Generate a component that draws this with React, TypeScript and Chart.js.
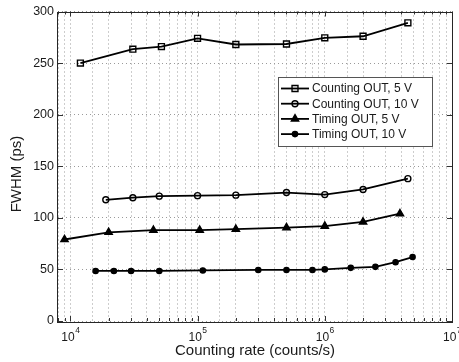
import React, { useEffect, useRef } from 'react';
import { Chart, registerables } from 'chart.js';

Chart.register(...registerables);

const FONT = '"Liberation Sans", Arial, Helvetica, sans-serif';
const TEXT = '#1a1a1a';

// ---- data ----
const seriesLabels = ['Counting OUT, 5 V', 'Counting OUT, 10 V', 'Timing OUT, 5 V', 'Timing OUT, 10 V'];

const cnt5X = [12000, 31000, 52000, 100000, 200000, 500000, 1000000, 2000000, 4500000];
const cnt5Y = [250, 263.5, 266, 274, 268, 268.5, 274.5, 276, 289];

const cnt10X = [19000, 31000, 50000, 100000, 200000, 500000, 1000000, 2000000, 4500000];
const cnt10Y = [117.5, 119.5, 121, 121.5, 122, 124.5, 122.5, 127.5, 138];

const tim5X = [9000, 20000, 45000, 104000, 200000, 500000, 1000000, 2000000, 3900000];
const tim5Y = [79, 86, 88, 88, 89, 90.5, 92, 96, 104];

const tim10X = [15800, 22000, 30000, 50000, 110000, 300000, 500000, 800000, 1000000, 1600000, 2500000, 3600000, 4900000];
const tim10Y = [48.5, 48.5, 48.5, 48.5, 49, 49.5, 49.5, 49.5, 50, 51.5, 52.5, 57, 62];

const xTickExponents = [4, 5, 6, 7];
const xMin = 8000;
const xMax = 10000000;
const yMin = 0;
const yMax = 300;
const yStep = 50;
const xTitle = 'Counting rate (counts/s)';
const yTitle = 'FWHM (ps)';

type Marker = { style: string; radius: number; fill: string };
const markers: Marker[] = [
  { style: 'rect', radius: 4.2, fill: 'rgba(0,0,0,0)' },
  { style: 'circle', radius: 3, fill: 'rgba(0,0,0,0)' },
  { style: 'triangle', radius: 4.2, fill: '#000' },
  { style: 'circle', radius: 2.6, fill: '#000' },
];

const toPoints = (xs: number[], ys: number[]) => xs.map((x, i) => ({ x, y: ys[i] }));

function drawMarker(ctx: CanvasRenderingContext2D, m: Marker, x: number, y: number) {
  ctx.save();
  ctx.lineWidth = 1.4;
  ctx.strokeStyle = '#000';
  ctx.fillStyle = m.fill;
  ctx.beginPath();
  if (m.style === 'rect') {
    const s = Math.SQRT1_2 * m.radius;
    ctx.rect(x - s, y - s, 2 * s, 2 * s);
  } else if (m.style === 'triangle') {
    const r = m.radius;
    for (let k = 0; k < 3; k++) {
      const a = -Math.PI / 2 + (k * 2 * Math.PI) / 3;
      const px = x + r * Math.cos(a);
      const py = y + r * Math.sin(a);
      if (k === 0) ctx.moveTo(px, py);
      else ctx.lineTo(px, py);
    }
    ctx.closePath();
  } else {
    ctx.arc(x, y, m.radius, 0, Math.PI * 2);
  }
  ctx.fill();
  ctx.stroke();
  ctx.restore();
}

const framePlugin = {
  id: 'matlabFrame',
  afterDraw(chart: any) {
    const { ctx, chartArea: a, scales } = chart;
    const xs = scales.x;
    const ys = scales.y;
    ctx.save();
    ctx.strokeStyle = '#333';
    ctx.lineWidth = 1;

    // x tick marks (major + minor), inside, bottom and top
    ctx.beginPath();
    for (let e = 3; e <= 7; e++) {
      for (let m = 1; m <= 9; m++) {
        const v = m * Math.pow(10, e);
        if (v < xMin || v > xMax) continue;
        const px = Math.round(xs.getPixelForValue(v)) + 0.5;
        const len = m === 1 ? 5 : 3;
        ctx.moveTo(px, a.bottom);
        ctx.lineTo(px, a.bottom - len);
        ctx.moveTo(px, a.top);
        ctx.lineTo(px, a.top + len);
      }
    }
    for (let v = yMin; v <= yMax; v += yStep) {
      const py = Math.round(ys.getPixelForValue(v)) + 0.5;
      ctx.moveTo(a.left, py);
      ctx.lineTo(a.left + 5, py);
      ctx.moveTo(a.right, py);
      ctx.lineTo(a.right - 5, py);
    }
    ctx.stroke();

    // frame
    ctx.strokeStyle = '#262626';
    ctx.strokeRect(Math.round(a.left) - 0.5, Math.round(a.top) + 0.5, Math.round(a.right - a.left) + 1, Math.round(a.bottom - a.top));

    // x tick labels 10^n
    ctx.fillStyle = TEXT;
    ctx.textBaseline = 'middle';
    ctx.textAlign = 'left';
    xTickExponents.forEach((e) => {
      const px = xs.getPixelForValue(Math.pow(10, e));
      ctx.font = `12px ${FONT}`;
      const w1 = ctx.measureText('10').width;
      ctx.font = `8.5px ${FONT}`;
      const w2 = ctx.measureText(String(e)).width;
      const x0 = px - (w1 + w2) / 2;
      ctx.font = `12px ${FONT}`;
      ctx.fillText('10', x0, a.bottom + 16.5);
      ctx.font = `8.5px ${FONT}`;
      ctx.fillText(String(e), x0 + w1 + 0.5, a.bottom + 9.5);
    });

    // axis titles
    ctx.font = `15px ${FONT}`;
    ctx.textAlign = 'center';
    ctx.fillText(xTitle, (a.left + a.right) / 2, a.bottom + 29.5);
    ctx.save();
    ctx.translate(17, 174);
    ctx.rotate(-Math.PI / 2);
    ctx.fillText(yTitle, 0, 0);
    ctx.restore();

    // legend
    const lx = 278.5, ly = 77.5, lw = 154, lh = 69;
    ctx.fillStyle = '#fff';
    ctx.fillRect(lx, ly, lw, lh);
    ctx.strokeStyle = '#555';
    ctx.lineWidth = 1;
    ctx.strokeRect(lx, ly, lw, lh);
    seriesLabels.forEach((label, i) => {
      const cy = 88.5 + i * 15.2;
      ctx.strokeStyle = '#000';
      ctx.lineWidth = 1.8;
      ctx.beginPath();
      ctx.moveTo(281, cy);
      ctx.lineTo(309, cy);
      ctx.stroke();
      drawMarker(ctx, markers[i], 295, cy);
      ctx.fillStyle = TEXT;
      ctx.font = `12px ${FONT}`;
      ctx.textAlign = 'left';
      ctx.textBaseline = 'middle';
      ctx.fillText(label, 312, cy + 0.5);
    });
    ctx.restore();
  },
};

export default function App() {
  const ref = useRef<HTMLCanvasElement | null>(null);

  useEffect(() => {
    if (!ref.current) return;
    const series = [
      toPoints(cnt5X, cnt5Y),
      toPoints(cnt10X, cnt10Y),
      toPoints(tim5X, tim5Y),
      toPoints(tim10X, tim10Y),
    ];
    const chart = new Chart(ref.current, {
      type: 'line',
      data: {
        datasets: series.map((pts, i) => ({
          label: seriesLabels[i],
          data: pts,
          borderColor: '#000',
          borderWidth: 1.8,
          pointStyle: markers[i].style as any,
          pointRadius: markers[i].radius,
          pointBorderColor: '#000',
          pointBackgroundColor: markers[i].fill,
          pointBorderWidth: 1.4,
          tension: 0,
          fill: false,
        })),
      },
      options: {
        animation: false,
        responsive: false,
        devicePixelRatio: 1,
        layout: { padding: { left: 0, top: 11, right: 7, bottom: 0 } },
        plugins: { legend: { display: false }, tooltip: { enabled: false } },
        scales: {
          x: {
            type: 'logarithmic',
            min: xMin,
            max: xMax,
            ticks: { display: false, autoSkip: false },
            grid: { color: '#9a9a9a', lineWidth: 1, drawTicks: false },
            border: { display: false, dash: [1, 3] },
            afterFit: (s: any) => {
              s.height = 41;
            },
          },
          y: {
            type: 'linear',
            min: yMin,
            max: yMax,
            ticks: {
              stepSize: yStep,
              padding: 4,
              color: TEXT,
              font: { family: FONT, size: 12.5 },
            },
            grid: { color: '#9a9a9a', lineWidth: 1, drawTicks: false },
            border: { display: false, dash: [1, 3] },
            afterFit: (s: any) => {
              s.width = 58;
            },
          },
        },
      },
      plugins: [framePlugin],
    } as any);
    return () => chart.destroy();
  }, []);

  return (
    <div style={{ position: 'absolute', left: 0, top: 0, width: 459, height: 362, background: '#fff' }}>
      <canvas ref={ref} width={459} height={362} style={{ display: 'block' }} />
    </div>
  );
}
